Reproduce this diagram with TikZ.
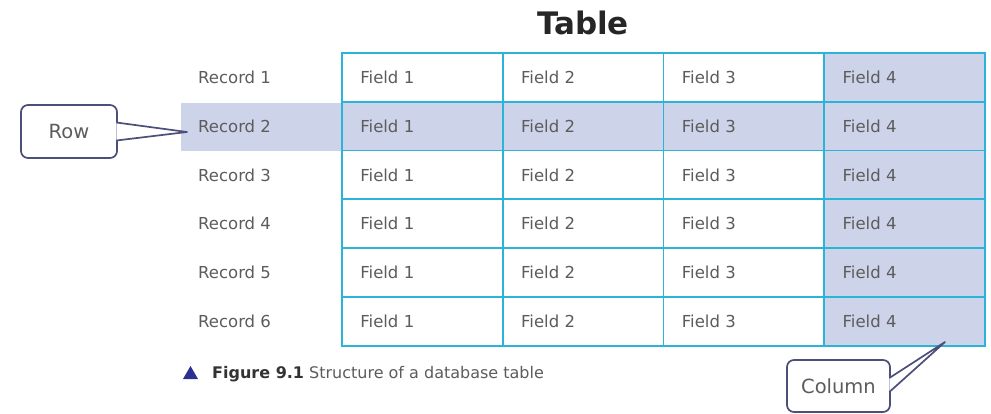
\documentclass[tikz,border=0pt]{standalone}
\usepackage{fontspec}
\setmainfont{DejaVu Sans}
\definecolor{tabline}{HTML}{2BB3D9}
\definecolor{tabfill}{HTML}{CDD4EA}
\definecolor{txtgrey}{HTML}{5C5C5C}
\definecolor{callline}{HTML}{4B4F7A}
\definecolor{navy}{HTML}{2B3190}

\begin{document}
\begin{tikzpicture}[x=1pt, y=-1pt,
  cell/.style={draw=tabline, line width=1.8pt, minimum width=160.75pt, minimum height=48.8pt,
    text width=124pt, inner xsep=18pt, inner ysep=0pt, align=left, text=txtgrey,
    font=\fontsize{16.5}{18}\selectfont},
  record/.style={anchor=west, inner sep=0pt, text=txtgrey, font=\fontsize{16.5}{18}\selectfont},
  callbox/.style={draw=callline, fill=white, line width=1.7pt, rounded corners=7pt,
    text=txtgrey, font=\fontsize{19.5}{21}\selectfont},
  pointer/.style={draw=callline, fill=white, line width=1.7pt, line join=round}]
\useasboundingbox (0,0) rectangle (991,414);

\node[font=\fontsize{31}{34}\selectfont\bfseries, text=black!85] (title) at (583,23) {Table};

% highlighted row behind the record name
\fill[tabfill] (181,102.6) rectangle (342,151.4);

\foreach \r in {1,...,6} {
  \node[record] (rec\r) at (198,{53+48.8*(\r-0.5)}) {Record \r};
  \foreach \c in {1,...,4} {
    \ifnum\r=2 \def\cellfill{tabfill}\else\ifnum\c=4 \def\cellfill{tabfill}\else\def\cellfill{white}\fi\fi
    \node[cell, fill=\cellfill] (f\r\c) at ({342+160.75*(\c-0.5)},{53+48.8*(\r-0.5)}) {Field \c};
  }
}

\fill[navy] (183,379) -- (198,379) -- (190.5,366) -- cycle;
\node[anchor=base west, inner sep=0pt, text=txtgrey, font=\fontsize{16}{18}\selectfont] (caption) at (212,378)
  {\textcolor{black!80}{\bfseries Figure 9.1} Structure of a database table};

% callouts
\node[callbox, minimum width=96pt, minimum height=53pt] (rowbox) at (69,131.5) {Row};
\coordinate (rowtip) at (187,132);
\path[pointer] ([xshift=-1.5pt,yshift=9pt]rowbox.east) -- (rowtip) -- ([xshift=-1.5pt,yshift=-9pt]rowbox.east);

\node[callbox, minimum width=103pt, minimum height=52pt] (colbox) at (838.5,386) {Column};
\coordinate (coltip) at (945,342);
\path[pointer] ([xshift=-1.5pt,yshift=8pt]colbox.east) -- (coltip) -- ([xshift=-1.5pt,yshift=-6pt]colbox.east);
\end{tikzpicture}
\end{document}
